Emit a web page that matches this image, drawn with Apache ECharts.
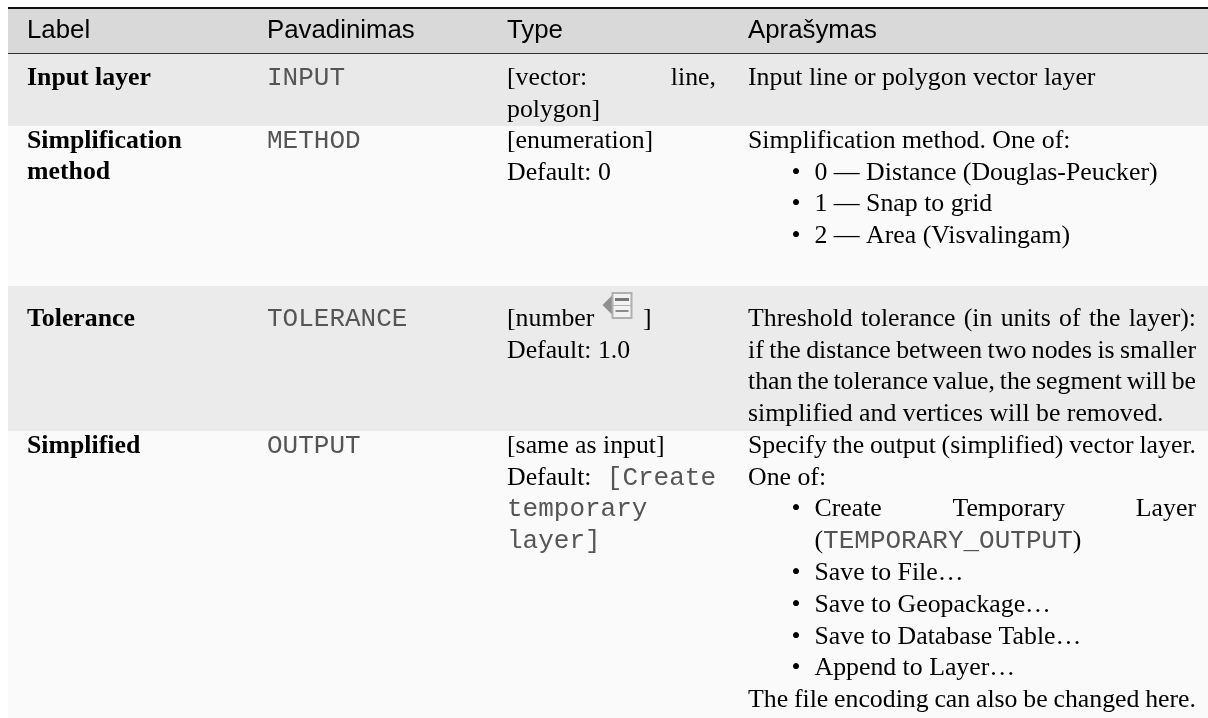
<!DOCTYPE html>
<html>
<head>
<meta charset="utf-8">
<style>
  html, body { margin: 0; padding: 0; background: #fff; overflow: hidden; }
  #chart { width: 1208px; height: 718px; }
</style>
</head>
<body>
<div id="chart"></div>
<script src="https://cdn.jsdelivr.net/npm/echarts@6/dist/echarts.min.js"></script>
<script>
// table content, `backticks` mark monospace runs
const headers = ['Label', 'Pavadinimas', 'Type', 'Aprašymas']
const labels = ['Input layer', 'Simplification\nmethod', 'Tolerance', 'Simplified']
const names = ['`INPUT`', '`METHOD`', '`TOLERANCE`', '`OUTPUT`']
const types = [
  ['[vector: line,', 'polygon]'],
  ['[enumeration]', 'Default: 0'],
  ['[number', 'Default: 1.0'],
  ['[same as input]', 'Default: `[Create`', '`temporary`', '`layer]`'],
]
const descriptions = [
  ['Input line or polygon vector layer'],
  ['Simplification method. One of:', '• 0 — Distance (Douglas-Peucker)', '• 1 — Snap to grid', '• 2 — Area (Visvalingam)'],
  ['Threshold tolerance (in units of the layer):', 'if the distance between two nodes is smaller', 'than the tolerance value, the segment will be', 'simplified and vertices will be removed.'],
  ['Specify the output (simplified) vector layer.', 'One of:', '• Create Temporary Layer', '  (`TEMPORARY_OUTPUT`)', '• Save to File…', '• Save to Geopackage…', '• Save to Database Table…', '• Append to Layer…', 'The file encoding can also be changed here.'],
]
const justified = [
  '[vector: line,',
  'Default: `[Create`',
  'Threshold tolerance (in units of the layer):',
  'if the distance between two nodes is smaller',
  'than the tolerance value, the segment will be',
  'Specify the output (simplified) vector layer.',
  '• Create Temporary Layer',
  'The file encoding can also be changed here.',
]

// layout, in page pixels
const columnX = [27, 267, 507, 748]
const columnRight = [0, 0, 716, 1196]
const bulletX = 791.5
const bulletTextX = 814.5
const lineHeight = 31.8
const firstBaseline = [85, 148, 326, 453]
const headerBaseline = 38
const bands = [
  [9, 53, '#d9d9d9'],
  [54, 126, '#e9e9e9'],
  [126, 286, '#fafafa'],
  [286, 431, '#ebebeb'],
  [431, 718, '#fafafa'],
]
const serif = '25.8px "Liberation Serif"'
const serifBold = 'bold 25.8px "Liberation Serif"'
const sans = '25.8px "Liberation Sans"'
const mono = '26px "Liberation Mono"'
const textColor = '#000'
const monoColor = '#555'
const baselineShift = 20

const ctx = document.createElement('canvas').getContext('2d')
function textWidth(text, font) {
  ctx.font = font
  return ctx.measureText(text).width
}

// split one line into runs of {text, font}
function parseRuns(text, baseFont) {
  return text.split('`').map((t, i) => ({ text: t, font: i % 2 ? mono : baseFont })).filter(r => r.text)
}

// turn a table line into positioned pieces
function placeLine(text, col, baseline, baseFont) {
  const pieces = []
  let x = columnX[col]
  let body = text
  if (body.startsWith('• ')) {
    pieces.push({ text: '•', x: bulletX, y: baseline, font: baseFont })
    body = body.slice(2)
    x = bulletTextX
  } else if (body.startsWith('  ')) {
    body = body.slice(2)
    x = bulletTextX
  }
  if (justified.includes(text)) {
    const words = body.split(' ').map(w => parseRuns(w, baseFont)[0])
    const total = words.reduce((s, w) => s + textWidth(w.text, w.font), 0)
    const gap = (columnRight[col] - x - total) / (words.length - 1)
    words.forEach(w => {
      pieces.push({ text: w.text, x: x, y: baseline, font: w.font })
      x += textWidth(w.text, w.font) + gap
    })
  } else {
    parseRuns(body, baseFont).forEach(r => {
      pieces.push({ text: r.text, x: x, y: baseline, font: r.font })
      x += textWidth(r.text, r.font)
    })
  }
  return pieces
}

const pieces = []
headers.forEach((h, c) => {
  pieces.push(...placeLine(h, c, headerBaseline, sans))
})
labels.forEach((cell, r) => {
  cell.split('\n').forEach((line, i) => {
    pieces.push(...placeLine(line, 0, firstBaseline[r] + i * lineHeight, serifBold))
  })
})
names.forEach((name, r) => {
  pieces.push(...placeLine(name, 1, firstBaseline[r], serif))
})
types.forEach((cell, r) => {
  cell.forEach((line, i) => {
    pieces.push(...placeLine(line, 2, firstBaseline[r] + i * lineHeight, serif))
  })
})
pieces.push({ text: ']', x: 643, y: firstBaseline[2], font: serif })
descriptions.forEach((cell, r) => {
  cell.forEach((line, i) => {
    pieces.push(...placeLine(line, 3, firstBaseline[r] + i * lineHeight, serif))
  })
})

const myChart = echarts.init(document.getElementById('chart'), null, { renderer: 'canvas' })

const option = {
  animation: false,
  backgroundColor: '#fff',
  grid: { left: 0, right: 0, top: 0, bottom: 0 },
  xAxis: { type: 'value', min: 0, max: 1208, show: false },
  yAxis: { type: 'value', min: 0, max: 718, inverse: true, show: false },
  series: [
    {
      // row bands
      type: 'custom',
      silent: true,
      data: bands.map((b, i) => [i]),
      renderItem(params, api) {
        const b = bands[api.value(0)]
        const p0 = api.coord([8, b[0]])
        const p1 = api.coord([1208, b[1]])
        return {
          type: 'rect',
          shape: { x: p0[0], y: p0[1], width: p1[0] - p0[0], height: p1[1] - p0[1] },
          style: { fill: b[2] },
        }
      },
    },
    {
      // header rules
      type: 'custom',
      silent: true,
      data: [[7, 9, '#111'], [53, 54, '#333']],
      renderItem(params, api) {
        const p0 = api.coord([8, api.value(0)])
        const p1 = api.coord([1208, api.value(1)])
        return {
          type: 'rect',
          shape: { x: p0[0], y: p0[1], width: p1[0] - p0[0], height: p1[1] - p0[1] },
          style: { fill: api.value(2) },
        }
      },
    },
    {
      // table text
      type: 'custom',
      silent: true,
      data: pieces.map((p, i) => [i]),
      renderItem(params, api) {
        const t = pieces[api.value(0)]
        const p = api.coord([t.x, t.y - baselineShift])
        return {
          type: 'text',
          style: {
            x: p[0],
            y: p[1],
            text: t.text,
            font: t.font,
            fill: t.font === mono ? monoColor : textColor,
            align: 'left',
            verticalAlign: 'top',
          },
        }
      },
    },
    {
      // option-dependent icon after [number
      type: 'custom',
      silent: true,
      data: [[602.5, 292]],
      renderItem(params, api) {
        const p = api.coord([api.value(0), api.value(1)])
        return {
          type: 'group',
          x: p[0],
          y: p[1],
          children: [
            { type: 'polygon', shape: { points: [[0, 13], [10, 3], [10, 23]] }, style: { fill: '#8f8f8f' } },
            { type: 'rect', shape: { x: 10, y: 1, width: 19, height: 25 }, style: { fill: '#f2f2f2', stroke: '#b0b0b0', lineWidth: 2 } },
            { type: 'rect', shape: { x: 12.5, y: 6, width: 14, height: 3 }, style: { fill: '#777' } },
            { type: 'rect', shape: { x: 10, y: 13, width: 19, height: 1 }, style: { fill: '#b0b0b0' } },
            { type: 'rect', shape: { x: 13, y: 18, width: 13, height: 2 }, style: { fill: '#8c8c8c' } },
          ],
        }
      },
    },
  ],
}

myChart.setOption(option)
</script>
</body>
</html>
